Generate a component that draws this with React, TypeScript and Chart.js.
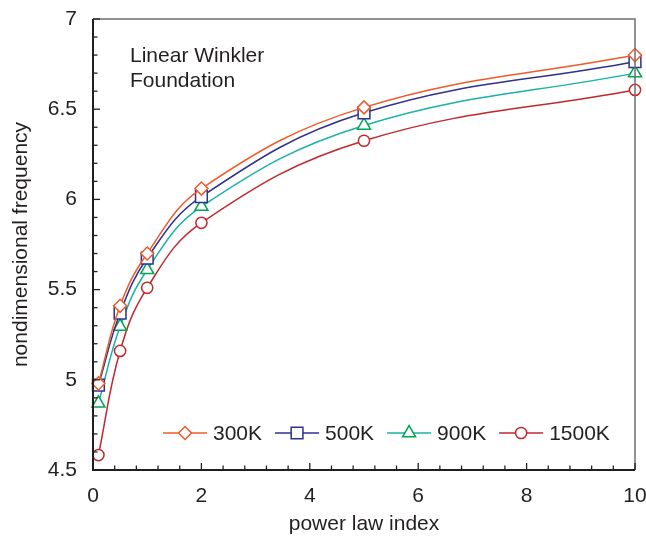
import React, { useEffect, useRef } from "react";
import { Chart, registerables } from "chart.js";

Chart.register(...registerables);

const xValues = [0.1, 0.5, 1, 2, 5, 10];
const series300K = [4.98, 5.41, 5.70, 6.06, 6.51, 6.80];
const series500K = [4.97, 5.37, 5.675, 6.015, 6.48, 6.763];
const series900K = [4.87, 5.295, 5.61, 5.96, 6.41, 6.70];
const series1500K = [4.583, 5.16, 5.51, 5.87, 6.325, 6.607];
const seriesLabels = ["300K", "500K", "900K", "1500K"];
const xTicks = [0, 2, 4, 6, 8, 10];
const yTicks = [4.5, 5, 5.5, 6, 6.5, 7];
const annotationLines = ["Linear Winkler", "Foundation"];
const xTitle = "power law index";
const yTitle = "nondimensional frequency";

const FONT = "'Liberation Sans', Arial, Helvetica, sans-serif";
const TEXT = "#231f20";

type Style = { line: string; marker: string; shape: string; r: number };
const styles: Style[] = [
  { line: "#f15a29", marker: "#f15a29", shape: "rectRot", r: 6.5 },
  { line: "#2e3192", marker: "#2e3192", shape: "rect", r: 8.3 },
  { line: "#1ab2a4", marker: "#00a651", shape: "triangle", r: 7.5 },
  { line: "#c1272d", marker: "#c1272d", shape: "circle", r: 5.6 },
];

function drawMarker(ctx: CanvasRenderingContext2D, shape: string, x: number, y: number, r: number, color: string) {
  ctx.save();
  ctx.beginPath();
  if (shape === "circle") {
    ctx.arc(x, y, r, 0, Math.PI * 2);
  } else if (shape === "rect") {
    const s = Math.SQRT1_2 * r;
    ctx.rect(x - s, y - s, 2 * s, 2 * s);
  } else if (shape === "rectRot") {
    ctx.moveTo(x, y - r);
    ctx.lineTo(x + r, y);
    ctx.lineTo(x, y + r);
    ctx.lineTo(x - r, y);
    ctx.closePath();
  } else if (shape === "triangle") {
    for (let i = 0; i < 3; i++) {
      const a = -Math.PI / 2 + (i * 2 * Math.PI) / 3;
      const px = x + Math.cos(a) * r;
      const py = y + Math.sin(a) * r;
      if (i === 0) ctx.moveTo(px, py);
      else ctx.lineTo(px, py);
    }
    ctx.closePath();
  }
  ctx.fillStyle = "#ffffff";
  ctx.fill();
  ctx.lineWidth = 1.5;
  ctx.strokeStyle = color;
  ctx.stroke();
  ctx.restore();
}

const framePlugin = {
  id: "framePlugin",
  afterDraw(chart: any) {
    const ctx: CanvasRenderingContext2D = chart.ctx;
    const { left, right, top, bottom } = chart.chartArea;
    const xs = chart.scales.x;
    const ys = chart.scales.y;
    ctx.save();
    ctx.strokeStyle = "#6d6e71";
    ctx.lineWidth = 1.5;
    ctx.beginPath();
    ctx.moveTo(left, top);
    ctx.lineTo(right, top);
    ctx.lineTo(right, bottom);
    ctx.stroke();
    ctx.strokeStyle = TEXT;
    ctx.lineWidth = 2;
    ctx.beginPath();
    ctx.moveTo(left, top);
    ctx.lineTo(left, bottom);
    ctx.lineTo(right, bottom);
    ctx.stroke();
    ctx.lineWidth = 1.3;
    for (let i = 0; i <= 25; i++) {
      const v = i * 0.4;
      const px = xs.getPixelForValue(v);
      const major = i % 5 === 0;
      ctx.beginPath();
      ctx.moveTo(px, bottom);
      ctx.lineTo(px, bottom - (major ? 7 : 4.5));
      ctx.stroke();
    }
    for (let i = 0; i <= 25; i++) {
      const v = 4.5 + i * 0.1;
      const py = ys.getPixelForValue(v);
      const major = i % 5 === 0;
      ctx.beginPath();
      ctx.moveTo(left, py);
      ctx.lineTo(left + (major ? 7 : 4.5), py);
      ctx.stroke();
    }
    ctx.fillStyle = TEXT;
    ctx.font = `21px ${FONT}`;
    ctx.textBaseline = "middle";
    // tick labels
    ctx.textAlign = "center";
    xTicks.forEach((v) => ctx.fillText(String(v), xs.getPixelForValue(v), 496));
    ctx.textAlign = "right";
    yTicks.forEach((v) => ctx.fillText(String(v), left - 16, ys.getPixelForValue(v)));
    // titles
    ctx.textAlign = "center";
    ctx.fillText(xTitle, (left + right) / 2, 524);
    ctx.save();
    ctx.translate(21, (top + bottom) / 2);
    ctx.rotate(-Math.PI / 2);
    ctx.fillText(yTitle, 0, 0);
    ctx.restore();
    ctx.textAlign = "left";
    annotationLines.forEach((t, i) => ctx.fillText(t, 130, 56 + i * 25));
    let lx = 163;
    const ly = 433;
    chart.data.datasets.forEach((ds: any, i: number) => {
      const st = styles[i];
      ctx.strokeStyle = st.line;
      ctx.lineWidth = 1.5;
      ctx.beginPath();
      ctx.moveTo(lx, ly);
      ctx.lineTo(lx + 44, ly);
      ctx.stroke();
      drawMarker(ctx, st.shape, lx + 22, ly, st.r, st.marker);
      ctx.fillStyle = TEXT;
      ctx.textAlign = "left";
      ctx.fillText(ds.label, lx + 50, ly + 1);
      lx += 50 + ctx.measureText(ds.label).width + 13;
    });
    ctx.restore();
  },
};

export default function App() {
  const ref = useRef<HTMLCanvasElement>(null);
  useEffect(() => {
    if (!ref.current) return;
    const all = [series300K, series500K, series900K, series1500K];
    const chart = new Chart(ref.current, {
      type: "line",
      data: {
        datasets: all.map((arr, i) => ({
          label: seriesLabels[i],
          data: arr.map((y, j) => ({ x: xValues[j], y })),
          borderColor: styles[i].line,
          borderWidth: 1.5,
          pointStyle: styles[i].shape as any,
          pointRadius: styles[i].r,
          pointBorderColor: styles[i].marker,
          pointBackgroundColor: "#ffffff",
          pointBorderWidth: 1.5,
          tension: 0.4,
          fill: false,
        })),
      },
      options: {
        animation: false,
        responsive: false,
        clip: false as any,
        layout: { padding: { top: 19, right: 11, left: 0, bottom: 0 } },
        plugins: { legend: { display: false }, tooltip: { enabled: false } },
        scales: {
          x: {
            type: "linear",
            min: 0,
            max: 10,
            grid: { display: false },
            border: { display: false },
            ticks: { display: false },
            afterFit: (s: any) => { s.height = 71; },
          },
          y: {
            min: 4.5,
            max: 7,
            grid: { display: false },
            border: { display: false },
            ticks: { display: false },
            afterFit: (s: any) => { s.width = 93; },
          },
        },
      },
      plugins: [framePlugin],
    });
    return () => chart.destroy();
  }, []);
  return (
    <div style={{ position: "absolute", left: 0, top: 0, width: 646, height: 541, background: "#fff" }}>
      <canvas ref={ref} width={646} height={541} style={{ display: "block" }} />
    </div>
  );
}
